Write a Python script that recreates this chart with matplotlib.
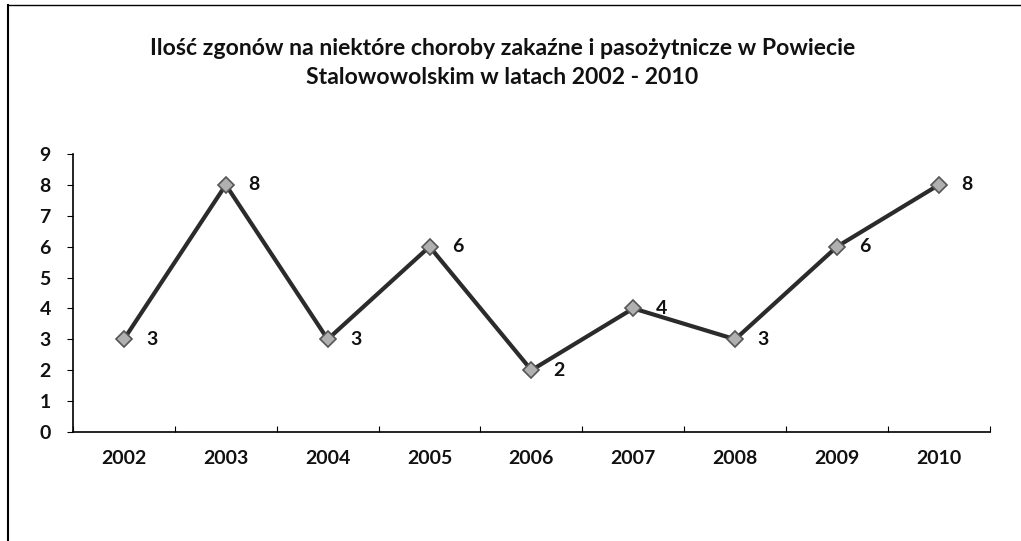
import matplotlib
matplotlib.use("Agg")
import matplotlib.pyplot as plt
from matplotlib.lines import Line2D

years = ["2002", "2003", "2004", "2005", "2006", "2007", "2008", "2009", "2010"]
deaths = [3, 8, 3, 6, 2, 4, 3, 6, 8]
yticks = [0, 1, 2, 3, 4, 5, 6, 7, 8, 9]
title = "Ilość zgonów na niektóre choroby zakaźne i pasożytnicze w Powiecie\nStalowowolskim w latach 2002 - 2010"

plt.rcParams['font.family'] = ['Lato', 'DejaVu Sans']

fig = plt.figure(figsize=(10.21, 5.41), dpi=100)
ax = fig.add_axes([0.0715, 0.2015, 0.898, 0.514])

x = list(range(len(years)))
ax.plot(x, deaths, color="#2b2b2b", lw=3.0, marker="D", markersize=8.5,
        markerfacecolor="#b0b0b0", markeredgecolor="#555555", markeredgewidth=1.2, zorder=3)
for xi, v in zip(x, deaths):
    ax.annotate(str(v), (xi, v), xytext=(16, 0), textcoords="offset points",
                ha="left", va="center", fontsize=14, fontweight="bold", color="#111111")

ax.set_xlim(-0.5, len(years) - 0.5)
ax.set_ylim(0, 9)
ax.set_yticks(yticks)
ax.set_yticklabels([str(t) for t in yticks], fontsize=14, fontweight="bold")
ax.set_xticks([i - 0.5 for i in range(len(years) + 1)], minor=False)
ax.set_xticklabels([])
ax.set_xticks(x, minor=True)
ax.set_xticklabels(years, minor=True, fontsize=14, fontweight="bold")
ax.tick_params(axis="x", which="minor", length=0, pad=13, colors="#111111")
ax.tick_params(axis="x", which="major", length=4, direction="in", color="black")
ax.tick_params(axis="y", length=4, direction="out", pad=12, colors="#111111")
ax.tick_params(axis="y", color="black")
for s in ["top", "right"]:
    ax.spines[s].set_visible(False)
for s in ["left", "bottom"]:
    ax.spines[s].set_color("black")
    ax.spines[s].set_linewidth(1.2)

fig.text(0.492, 0.884, title, ha="center", va="center", fontsize=16.6, fontweight="bold",
         linespacing=1.45, color="#111111")

fig.add_artist(Line2D([8/1021, 8/1021], [0, 1 - 5/541], transform=fig.transFigure, color="black", lw=1.5))
fig.add_artist(Line2D([8/1021, 1], [1 - 5/541, 1 - 5/541], transform=fig.transFigure, color="black", lw=1.0))

fig.savefig("out.png", dpi=100)
